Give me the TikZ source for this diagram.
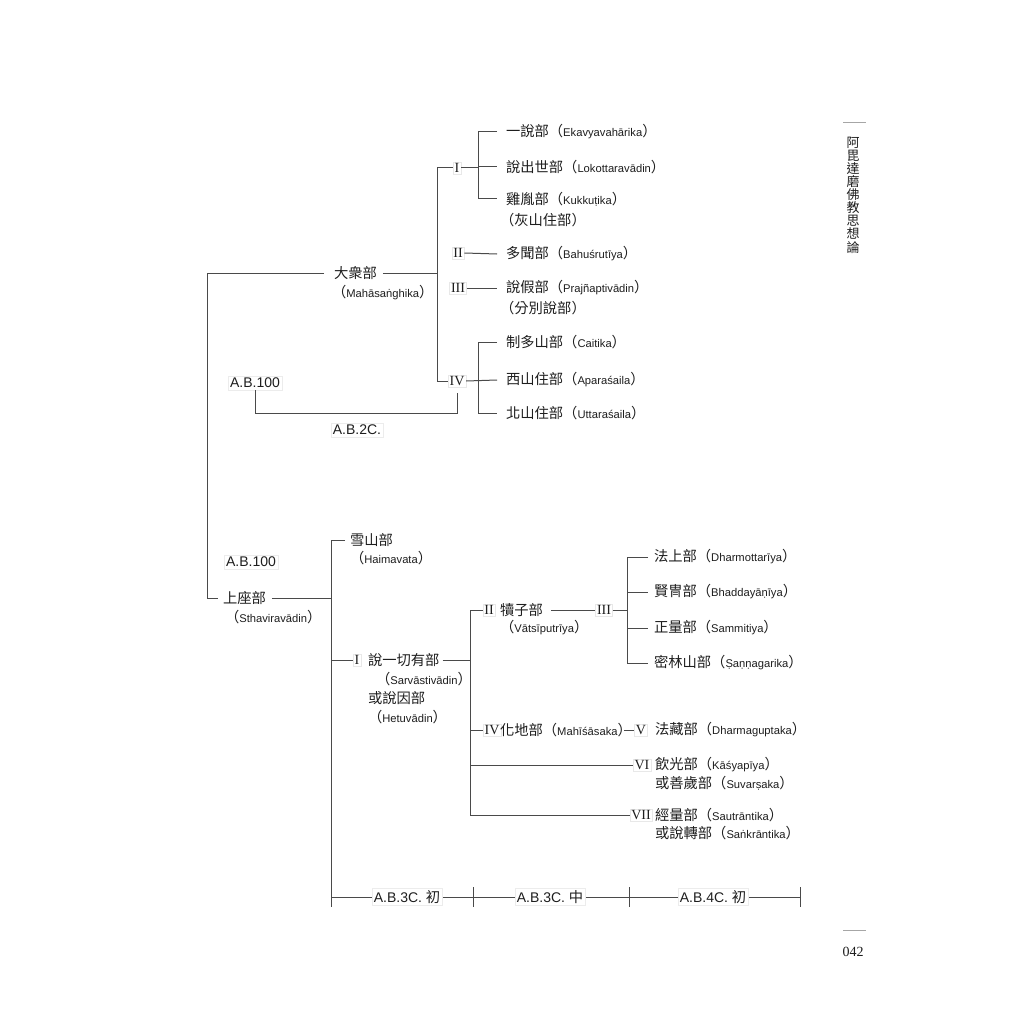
\documentclass[tikz,border=0pt]{standalone}
\usepackage{fontspec}
\setmainfont{Liberation Sans}
\newfontfamily\cjkf{Noto Sans CJK TC}
\newfontfamily\hdrf{Noto Sans CJK TC}
\newfontfamily\romf{Liberation Serif}
\definecolor{lc}{HTML}{4A4A4A}
\definecolor{tc}{HTML}{1E1E1E}
\newcommand{\myzh}[1]{{\cjkf\fontsize{14.3}{17}\selectfont #1}}
\newcommand{\mylat}[1]{{\fontsize{11.2}{13}\selectfont #1}}
\newcommand{\mynm}[2]{\myzh{#1（}\mylat{#2}\myzh{）}}
\newcommand{\mypn}[1]{\myzh{（}\mylat{#1}\myzh{）}}
\tikzset{
  ln/.style={draw=lc, line width=1pt},
  txt/.style={inner sep=0pt, outer sep=0pt, text=tc, anchor=west},
  rn/.style={font=\romf\fontsize{14}{14}\selectfont, draw=gray!18, fill=white, inner sep=1.5pt, text=tc},
  lab/.style={font=\fontsize{14}{16}\selectfont, draw=gray!15, fill=white, inner sep=2pt, text=tc},
}
\begin{document}
\begin{tikzpicture}[x=1pt,y=-1pt]
\useasboundingbox[fill=white] (0,0) rectangle (1024,1024);
% ---------- header / page number
\draw[draw=gray!70, line width=0.7pt] (843,122) -- (866,122);
\node[text=tc, align=center, inner sep=0pt, font=\hdrf\fontsize{13}{13.1}\selectfont] (hdr) at (853,195)
  {阿\\毘\\達\\磨\\佛\\教\\思\\想\\論};
\draw[draw=gray!70, line width=0.7pt] (843,930) -- (866,930);
\node[text=tc, inner sep=0pt, font=\romf\fontsize{14}{15}\selectfont] (pg) at (853,952) {042};
% ---------- vertical guide coordinates
\coordinate (kL) at (207,0);
\coordinate (kA) at (437,0);
\coordinate (kB) at (478,0);
\coordinate (kC) at (331,0);
\coordinate (kD) at (470,0);
\coordinate (kE) at (627,0);
\coordinate (yB) at (0,413);
% ---------- upper tree (Mahasanghika)
\node[txt] (maha) at (334,273) {\myzh{大衆部}};
\node[txt] (mahaL) at (332,293) {\mypn{Mahāsaṅghika}};
\node[rn] (r1) at (457,168) {I};
\node[rn] (r2) at (458,253) {II};
\node[rn] (r3) at (458,288) {III};
\node[rn] (r4) at (457,381) {IV};
\node[txt] (a1) at (506,132) {\mynm{一說部}{Ekavyavahārika}};
\node[txt] (a2) at (506,167) {\mynm{說出世部}{Lokottaravādin}};
\node[txt] (a3) at (506,199) {\mynm{雞胤部}{Kukkuṭika}};
\node[txt] (a3b) at (500,220) {\myzh{（灰山住部）}};
\node[txt] (b1) at (506,254) {\mynm{多聞部}{Bahuśrutīya}};
\node[txt] (c1) at (506,288) {\mynm{說假部}{Prajñaptivādin}};
\node[txt] (c1b) at (500,308) {\myzh{（分別說部）}};
\node[txt] (d1) at (506,342) {\mynm{制多山部}{Caitika}};
\node[txt] (d2) at (506,380) {\mynm{西山住部}{Aparaśaila}};
\node[txt] (d3) at (506,413) {\mynm{北山住部}{Uttaraśaila}};
\node[lab] (t1) at (255,383) {A.B.100};
\node[lab] (t2) at (357,430) {A.B.2C.};
\draw[ln] ([xshift=6pt]maha.east) -- (kA |- maha.east);
\draw[ln] (r1.west) -- (kA |- r1.west) -- (kA |- r4.west) -- (r4.west);
\draw[ln] (r1.east) -- (kB |- r1.east);
\draw[ln] ([xshift=-9pt]a1.west) -| (kB |- a3.west) -- ([xshift=-9pt]a3.west);
\draw[ln] (kB |- a2.west) -- ([xshift=-9pt]a2.west);
\draw[ln] (r2.east) -- ([xshift=-9pt]b1.west);
\draw[ln] (r3.east) -- ([xshift=-9pt]c1.west);
\draw[ln] ([xshift=-9pt]d1.west) -| (kB |- d3.west) -- ([xshift=-9pt]d3.west);
\draw[ln] (r4.east) -- ([xshift=-9pt]d2.west);
\draw[ln] ([yshift=-6pt]r4.south) -- (r4.south |- yB) -- (t1.south |- yB) -- (t1.south);
% ---------- lower tree (Sthaviravadin)
\node[txt] (sth) at (223,598) {\myzh{上座部}};
\node[txt] (sthL) at (225,617) {\mypn{Sthaviravādin}};
\node[lab] (t3) at (251,562) {A.B.100};
\draw[ln] ([xshift=-10pt]maha.west) -| (kL |- sth.west) -- ([xshift=-5pt]sth.west);
\draw[ln] ([xshift=6pt]sth.east) -- (kC |- sth.east);
\node[txt] (hm) at (350,540) {\myzh{雪山部}};
\node[txt] (hmL) at (350,558) {\mypn{Haimavata}};
\coordinate (ta) at (331,897);
\coordinate (tb) at (473,897);
\coordinate (tc) at (629,897);
\coordinate (td) at (800,897);
\draw[ln] ([xshift=-5pt]hm.west) -| ([yshift=-10pt]ta);
\node[rn] (s1) at (357,660) {I};
\node[txt] (sa) at (368,660) {\myzh{說一切有部}};
\node[txt] (saL) at (376,679) {\mypn{Sarvāstivādin}};
\node[txt] (sa2) at (368,698) {\myzh{或說因部}};
\node[txt] (sa2L) at (368,717) {\mypn{Hetuvādin}};
\draw[ln] (s1.west) -- (kC |- s1.west);
\draw[ln] ([xshift=3pt]sa.east) -- (kD |- sa.east);
% Vatsiputriya branch
\node[rn] (s2) at (489,610) {II};
\node[txt] (vt) at (500,610) {\myzh{犢子部}};
\node[txt] (vtL) at (500,628) {\mypn{Vātsīputrīya}};
\node[rn] (s3) at (604,610) {III};
\node[txt] (f1) at (654,557) {\mynm{法上部}{Dharmottarīya}};
\node[txt] (f2) at (654,592) {\mynm{賢冑部}{Bhaddayāṇīya}};
\node[txt] (f3) at (654,628) {\mynm{正量部}{Sammitiya}};
\node[txt] (f4) at (654,663) {\mynm{密林山部}{Ṣaṇṇagarika}};
\draw[ln] ([xshift=8pt]vt.east) -- (s3.west);
\draw[ln] (s3.east) -- (kE |- s3.east);
\draw[ln] ([xshift=-6pt]f1.west) -| (kE |- f4.west) -- ([xshift=-6pt]f4.west);
\draw[ln] (kE |- f2.west) -- ([xshift=-6pt]f2.west);
\draw[ln] (kE |- f3.west) -- ([xshift=-6pt]f3.west);
% other branches
\node[rn] (s4) at (492,730) {IV};
\node[txt] (ms) at (500,730) {\mynm{化地部}{Mahīśāsaka}};
\node[rn] (s5) at (641,730) {V};
\node[txt] (dg) at (655,730) {\mynm{法藏部}{Dharmaguptaka}};
\node[rn] (s6) at (642,765) {VI};
\node[txt] (ky) at (655,765) {\mynm{飲光部}{Kāśyapīya}};
\node[txt] (ky2) at (655,783) {\mynm{或善歲部}{Suvarṣaka}};
\node[rn] (s7) at (641,815) {VII};
\node[txt] (st) at (655,815) {\mynm{經量部}{Sautrāntika}};
\node[txt] (st2) at (655,833) {\mynm{或說轉部}{Saṅkrāntika}};
\draw[ln] (s2.west) -| (kD |- s7.west) -- (s7.west);
\draw[ln] (kD |- s4.west) -- (s4.west);
\draw[ln] (kD |- s6.west) -- (s6.west);
\draw[ln] ([xshift=-8pt]ms.east) -- (s5.west);
% ---------- time line
\draw[ln] (ta) -- (td);
\draw[ln] ([yshift=10pt]tb) -- ([yshift=-10pt]tb);
\draw[ln] ([yshift=10pt]tc) -- ([yshift=-10pt]tc);
\draw[ln] ([yshift=10pt]td) -- ([yshift=-10pt]td);
\node[lab] (p1) at (407,897) {A.B.3C. \myzh{初}};
\node[lab] (p2) at (550,897) {A.B.3C. \myzh{中}};
\node[lab] (p3) at (713,897) {A.B.4C. \myzh{初}};
\end{tikzpicture}
\end{document}
